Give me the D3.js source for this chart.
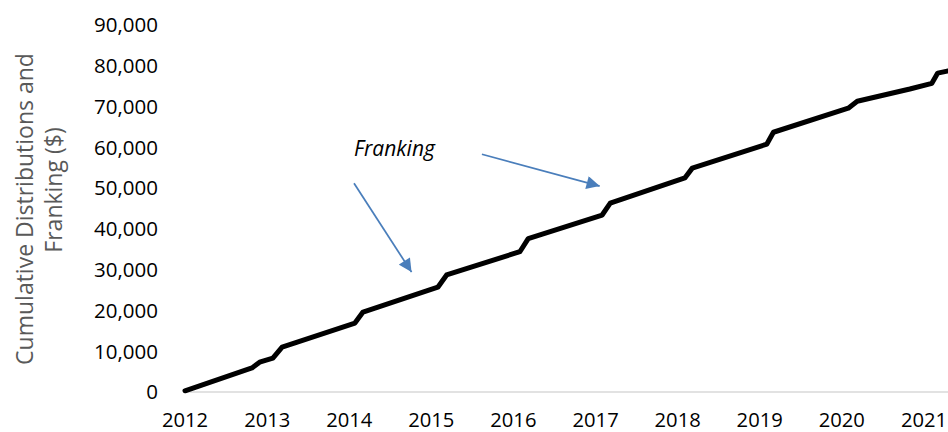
<!DOCTYPE html>
<html>
<head>
<meta charset="utf-8">
<script src="https://cdnjs.cloudflare.com/ajax/libs/d3/7.8.5/d3.min.js"></script>
<style>
  body { margin: 0; background: #fff; }
  svg { display: block; }
  text { font-family: "Open Sans", sans-serif; }
</style>
</head>
<body>
<div id="chart"></div>
<script>
// cumulative distributions + franking
var dates = ["2012-01-01", "2012-10-25", "2012-11-28", "2013-01-26", "2013-03-08",
  "2014-01-26", "2014-03-03", "2015-01-30", "2015-03-10", "2016-01-30", "2016-03-07",
  "2017-01-30", "2017-03-07", "2018-02-02", "2018-03-07", "2019-02-02", "2019-03-03",
  "2020-01-30", "2020-03-10", "2020-10-30", "2021-02-05", "2021-03-03", "2021-04-14"];
var values = [300, 5900, 7300, 8300, 11000,
  16900, 19600, 25700, 28700, 34400, 37600,
  43400, 46300, 52500, 54900, 60800, 63700,
  69600, 71300, 74300, 75700, 78200, 78700];

var yTicks = [0, 10000, 20000, 30000, 40000, 50000, 60000, 70000, 80000, 90000];
var xTicks = [2012, 2013, 2014, 2015, 2016, 2017, 2018, 2019, 2020, 2021];

// annotation arrows: [fromDate, fromValue, toDate, toValue]
var arrows = [
  ["2014-01-22", 51200, "2014-10-05", 29400],
  ["2015-08-14", 58300, "2017-01-19", 50500]
];
var noteLabel = "Franking";
var notePos = ["2014-01-22", 59800];

var W = 948, H = 432;
var parse = d3.timeParse("%Y-%m-%d");
var data = dates.map(function (d, i) { return { date: parse(d), value: values[i] }; });

var svg = d3.select("#chart").append("svg").attr("width", W).attr("height", H);

var x = d3.scaleTime()
  .domain([new Date(2012, 0, 1), new Date(2021, 0, 1)])
  .range([185, 924]);
var y = d3.scaleLinear().domain([0, 90000]).range([392, 25]);

// zero line
svg.append("line")
  .attr("x1", x(new Date(2012, 0, 1)) - 2).attr("x2", W)
  .attr("y1", y(0)).attr("y2", y(0))
  .attr("stroke", "#d9d9d9").attr("stroke-width", 1.5);

// y axis labels
var fmt = d3.format(",");
svg.append("g").selectAll("text").data(yTicks).join("text")
  .attr("x", 158).attr("y", function (d) { return y(d); })
  .attr("dy", "0.36em").attr("text-anchor", "end")
  .attr("font-size", 20.5).attr("fill", "#000")
  .text(function (d) { return fmt(d); });

// x axis labels
svg.append("g").selectAll("text").data(xTicks).join("text")
  .attr("x", function (d) { return x(new Date(d, 0, 1)); })
  .attr("y", 426.5).attr("text-anchor", "middle")
  .attr("font-size", 20.2).attr("fill", "#000")
  .text(function (d) { return d; });

// y axis title, two lines
svg.append("text")
  .attr("transform", "translate(33,209) rotate(-90)")
  .attr("text-anchor", "middle")
  .attr("fill", "#595959").attr("font-size", 23)
  .text("Cumulative Distributions and");
svg.append("text")
  .attr("transform", "translate(62,190) rotate(-90)")
  .attr("text-anchor", "middle")
  .attr("fill", "#595959").attr("font-size", 23)
  .text("Franking ($)");

// the line
var line = d3.line()
  .x(function (d) { return x(d.date); })
  .y(function (d) { return y(d.value); });

svg.append("path").datum(data)
  .attr("d", line)
  .attr("fill", "none").attr("stroke", "#000")
  .attr("stroke-width", 5).attr("stroke-linejoin", "round").attr("stroke-linecap", "round");

// arrows
svg.append("defs").append("marker")
  .attr("id", "head").attr("viewBox", "0 0 10 10")
  .attr("refX", 10).attr("refY", 5)
  .attr("markerWidth", 8.5).attr("markerHeight", 7.5)
  .attr("markerUnits", "strokeWidth")
  .attr("orient", "auto")
  .append("path").attr("d", "M0,0 L10,5 L0,10 Z").attr("fill", "#4a7ebb");

svg.append("g").selectAll("line").data(arrows).join("line")
  .attr("x1", function (d) { return x(parse(d[0])); })
  .attr("y1", function (d) { return y(d[1]); })
  .attr("x2", function (d) { return x(parse(d[2])); })
  .attr("y2", function (d) { return y(d[3]); })
  .attr("stroke", "#4a7ebb").attr("stroke-width", 1.75)
  .attr("marker-end", "url(#head)");

svg.append("text")
  .attr("x", x(parse(notePos[0]))).attr("y", y(notePos[1]))
  .attr("dy", "0.36em").attr("font-style", "italic")
  .attr("font-size", 21).attr("fill", "#000")
  .text(noteLabel);
</script>
</body>
</html>
